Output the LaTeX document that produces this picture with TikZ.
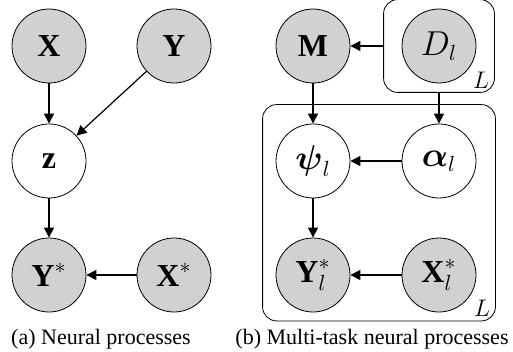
\documentclass[tikz,border=0pt]{standalone}
\usepackage{amsmath}
\usepackage{amssymb}
\usepackage{fontspec}
\setmainfont{Liberation Serif}
\usepackage{tikz}
\usepackage{xcolor}
\usetikzlibrary{arrows.meta,positioning,fit}
\definecolor{obsgray}{RGB}{210,209,210}
\tikzset{
    var-node/.style = {draw, circle, thin, minimum size=37pt, inner sep=0pt, font=\fontsize{16}{18}\selectfont},
    obs-node/.style = {var-node, fill=obsgray},
    plate-box/.style = {draw, thin, rectangle, rounded corners=7pt, inner sep=0pt},
    plate-label/.style = {anchor=south east, inner xsep=2.5pt, inner ysep=2pt, font=\large},
    caption-text/.style = {font=\fontsize{11}{13}\selectfont},
    >={Triangle[length=5pt,width=5pt]},
}

\begin{document}
\begin{tikzpicture}[x=0.5pt,y=-0.5pt,line width=0.6pt]
\useasboundingbox (0,0) rectangle (513,352);

% (a) neural processes
\node[obs-node] (X) at (49,46) {$\mathbf{X}$};
\node[obs-node] (Y) at (174,46) {$\mathbf{Y}$};
\node[var-node] (z) at (49,161) {$\mathbf{z}$};
\node[obs-node] (Ystar) at (49,275) {$\mathbf{Y}^{*}$};
\node[obs-node] (Xstar) at (174,275) {$\mathbf{X}^{*}$};

\draw[->] (X) -- (z);
\draw[->] (Y) -- (z);
\draw[->] (z) -- (Ystar);
\draw[->] (Xstar) -- (Ystar);

\node[caption-text] (cap-a) at (101,339) {(a) Neural processes};

% (b) multi-task neural processes
\node[obs-node] (M) at (313,46) {$\mathbf{M}$};
\node[obs-node] (Dl) at (439,46) {$D_l$};
\node[var-node] (psi) at (313,161) {$\boldsymbol{\psi}_l$};
\node[var-node] (alpha) at (439,161) {$\boldsymbol{\alpha}_l$};
\node[obs-node] (Ylstar) at (313,275) {$\mathbf{Y}^{*}_{l}$};
\node[obs-node] (Xlstar) at (439,275) {$\mathbf{X}^{*}_{l}$};

\node[plate-box, inner xsep=9pt, inner ysep=4.5pt,
      fit={(Dl.west) (Dl.east) (Dl.north) (Dl.south)}] (d-plate) {};
\node[plate-label] at (d-plate.south east) {$L$};

\node[plate-box, fit={([xshift=-6.5pt]psi.west) ([yshift=9.5pt]psi.north)
      ([xshift=9.5pt]Xlstar.east) ([yshift=-4.25pt]Xlstar.south)}] (task-plate) {};
\node[plate-label] at (task-plate.south east) {$L$};

\draw[->] (d-plate) -- (M);
\draw[->] (d-plate.south -| alpha) -- (alpha);
\draw[->] (M) -- (psi);
\draw[->] (alpha) -- (psi);
\draw[->] (psi) -- (Ylstar);
\draw[->] (Xlstar) -- (Ylstar);

\node[caption-text] (cap-b) at (372,339) {(b) Multi-task neural processes};
\end{tikzpicture}
\end{document}
